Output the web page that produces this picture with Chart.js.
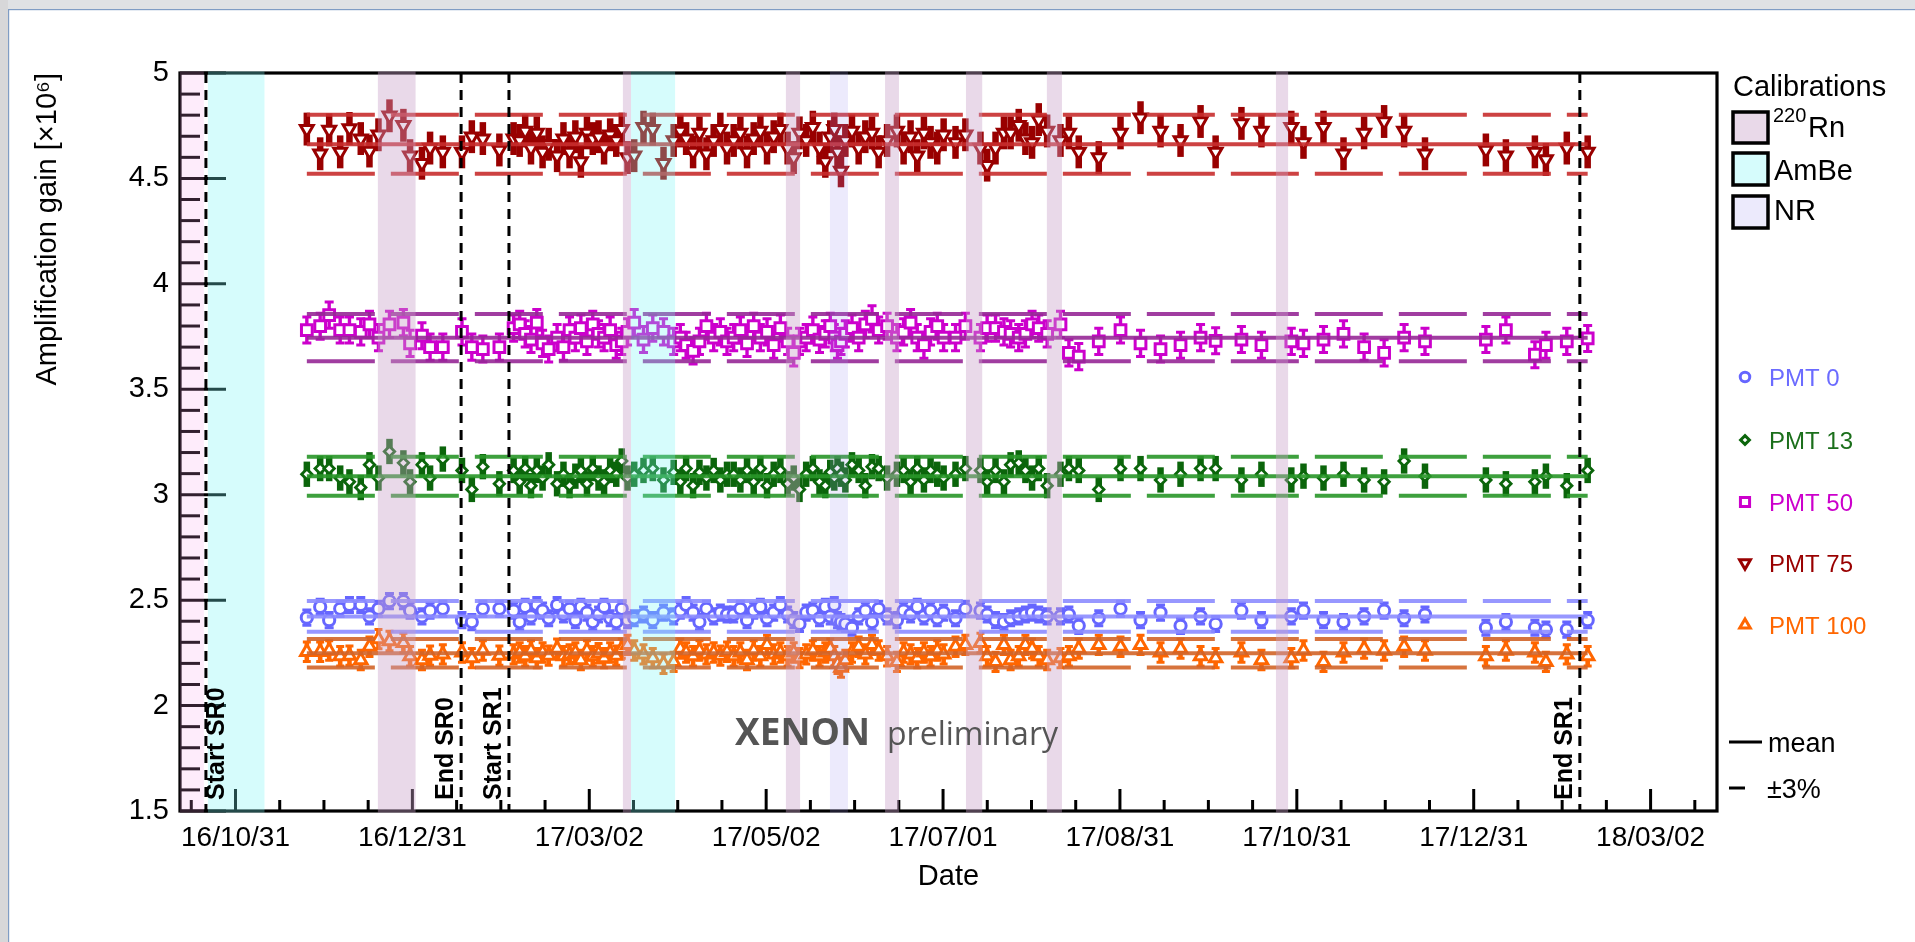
<!DOCTYPE html>
<html>
<head>
<meta charset="utf-8">
<title>PMT amplification gain</title>
<script src="https://cdn.jsdelivr.net/npm/chart.js@4.4.1/dist/chart.umd.min.js"></script>
<style>
html,body{margin:0;padding:0;background:#fff;overflow:hidden;}
#wrap{position:relative;width:1915px;height:942px;}
</style>
</head>
<body>
<div id="wrap"><canvas id="chart"></canvas></div>
<script>
// ===== data =====
// x values: days since 2016-10-31
const days = [
  24.6, 29.2, 32.3, 36.1, 39.3, 43.2, 46.2, 49.3, 53.1, 57.9, 60.2, 64.3, 67.1, 71.5, 78.1, 81.5, 85.3, 91.0,
  95.9, 98.0, 99.9, 101.9, 103.9, 105.9, 108.0, 110.9, 113.1, 115.2, 117.2, 119.1, 121.2, 123.2, 125.2, 127.1, 129.2, 131.3, 133.2, 135.2, 137.5, 140.7, 143.9, 147.6, 151.1, 153.4, 155.4, 157.8, 160.0, 162.4, 164.9, 167.2, 169.5,
  171.8, 174.1, 176.4, 178.7, 181.0, 183.3, 185.6, 187.9, 190.4, 192.5, 194.5, 196.8, 199.1, 201.4, 203.4, 205.1, 206.5, 207.6, 208.8, 210.3, 212.6, 214.9, 217.2, 219.5, 221.8, 224.7, 228.1, 230.4, 232.8, 235.1, 237.4, 239.7, 242.0, 244.2,
  248.3, 251.7, 256.9, 259.2, 262.1, 265.0, 267.3, 270.1, 272.4, 274.7, 277.0, 279.9, 284.5, 287.4, 290.8, 297.7, 305.2, 312.1, 319.0,
  325.9, 332.8, 338.0, 346.9, 353.8, 364.1, 368.3, 375.2, 382.1, 389.2, 396.1,
  403.0, 410.2, 431.2, 438.1, 448.1, 451.9, 459.1, 466.3
];
const gainPMT75 = [
  4.734, 4.617, 4.730, 4.626, 4.737, 4.689, 4.630, 4.707, 4.797, 4.752, 4.608, 4.572, 4.644, 4.626, 4.626, 4.698, 4.689, 4.635,
  4.689, 4.680, 4.725, 4.644, 4.716, 4.626, 4.662, 4.608, 4.689, 4.626, 4.698, 4.581, 4.716, 4.689, 4.698, 4.644, 4.707, 4.680, 4.734, 4.599, 4.608, 4.743, 4.734, 4.572, 4.680, 4.725, 4.689, 4.626, 4.716, 4.617, 4.680, 4.734, 4.644,
  4.680, 4.716, 4.626, 4.689, 4.725, 4.644, 4.698, 4.734, 4.644, 4.599, 4.716, 4.680, 4.743, 4.644, 4.581, 4.698, 4.734, 4.626, 4.536, 4.680, 4.725, 4.644, 4.698, 4.716, 4.626, 4.680, 4.725, 4.644, 4.698, 4.608, 4.716, 4.671, 4.644, 4.707,
  4.671, 4.707, 4.644, 4.563, 4.644, 4.716, 4.716, 4.752, 4.689, 4.671, 4.779, 4.725, 4.680, 4.716, 4.626, 4.599, 4.716, 4.788, 4.725,
  4.680, 4.770, 4.626, 4.761, 4.725, 4.743, 4.671, 4.743, 4.617, 4.716, 4.770,
  4.725, 4.617, 4.635, 4.608, 4.626, 4.590, 4.644, 4.626
];
const gainPMT50 = [
  3.781, 3.799, 3.852, 3.781, 3.781, 3.772, 3.808, 3.745, 3.808, 3.816, 3.718, 3.754, 3.700, 3.700, 3.772, 3.700, 3.691, 3.700,
  3.790, 3.808, 3.763, 3.736, 3.816, 3.718, 3.691, 3.745, 3.700, 3.781, 3.745, 3.790, 3.727, 3.808, 3.763, 3.745, 3.781, 3.709, 3.727, 3.772, 3.816, 3.736, 3.790, 3.772, 3.727, 3.745, 3.709, 3.682, 3.727, 3.799, 3.745, 3.772, 3.727,
  3.745, 3.781, 3.718, 3.799, 3.745, 3.772, 3.709, 3.790, 3.727, 3.673, 3.727, 3.745, 3.781, 3.736, 3.763, 3.799, 3.745, 3.709, 3.727, 3.763, 3.790, 3.745, 3.808, 3.834, 3.781, 3.799, 3.745, 3.772, 3.816, 3.745, 3.709, 3.772, 3.799, 3.745,
  3.745, 3.799, 3.745, 3.790, 3.790, 3.772, 3.763, 3.745, 3.763, 3.808, 3.790, 3.763, 3.808, 3.673, 3.655, 3.727, 3.781, 3.718, 3.691,
  3.709, 3.745, 3.730, 3.736, 3.709, 3.727, 3.718, 3.736, 3.763, 3.700, 3.673,
  3.745, 3.727, 3.736, 3.781, 3.664, 3.709, 3.727, 3.741
];
const gainPMT13 = [
  3.097, 3.124, 3.124, 3.079, 3.061, 3.034, 3.142, 3.079, 3.205, 3.151, 3.061, 3.142, 3.079, 3.169, 3.115, 3.025, 3.133, 3.052,
  3.115, 3.061, 3.124, 3.043, 3.115, 3.079, 3.142, 3.052, 3.097, 3.043, 3.088, 3.115, 3.052, 3.124, 3.079, 3.061, 3.115, 3.097, 3.160, 3.079, 3.097, 3.115, 3.124, 3.070, 3.106, 3.061, 3.124, 3.043, 3.106, 3.079, 3.115, 3.070, 3.097,
  3.097, 3.070, 3.115, 3.061, 3.124, 3.043, 3.097, 3.115, 3.052, 3.079, 3.025, 3.097, 3.124, 3.061, 3.043, 3.106, 3.079, 3.124, 3.097, 3.070, 3.142, 3.115, 3.043, 3.133, 3.124, 3.079, 3.097, 3.115, 3.061, 3.124, 3.070, 3.115, 3.097, 3.079,
  3.097, 3.124, 3.115, 3.061, 3.115, 3.061, 3.142, 3.151, 3.115, 3.079, 3.124, 3.043, 3.097, 3.124, 3.115, 3.025, 3.124, 3.124, 3.070,
  3.097, 3.124, 3.124, 3.070, 3.097, 3.070, 3.088, 3.079, 3.097, 3.070, 3.061,
  3.160, 3.088, 3.070, 3.052, 3.061, 3.088, 3.043, 3.115
];
const gainPMT0 = [
  2.417, 2.468, 2.405, 2.459, 2.477, 2.477, 2.423, 2.459, 2.495, 2.495, 2.450, 2.423, 2.450, 2.459, 2.405, 2.396, 2.459, 2.459,
  2.450, 2.396, 2.468, 2.423, 2.477, 2.450, 2.414, 2.477, 2.432, 2.459, 2.405, 2.468, 2.441, 2.396, 2.432, 2.468, 2.414, 2.396, 2.459, 2.405, 2.414, 2.432, 2.405, 2.441, 2.423, 2.450, 2.477, 2.441, 2.396, 2.459, 2.423, 2.441, 2.432,
  2.432, 2.459, 2.405, 2.450, 2.468, 2.414, 2.441, 2.477, 2.432, 2.405, 2.387, 2.441, 2.450, 2.414, 2.468, 2.423, 2.477, 2.405, 2.396, 2.387, 2.369, 2.423, 2.450, 2.396, 2.459, 2.423, 2.405, 2.450, 2.432, 2.468, 2.423, 2.450, 2.414, 2.441,
  2.414, 2.459, 2.450, 2.432, 2.405, 2.396, 2.414, 2.423, 2.432, 2.441, 2.432, 2.423, 2.423, 2.432, 2.378, 2.414, 2.459, 2.405, 2.441,
  2.378, 2.423, 2.387, 2.450, 2.405, 2.423, 2.450, 2.405, 2.396, 2.423, 2.450,
  2.414, 2.432, 2.369, 2.396, 2.369, 2.360, 2.360, 2.405
];
const gainPMT100 = [
  2.255, 2.255, 2.261, 2.234, 2.237, 2.216, 2.279, 2.315, 2.306, 2.297, 2.234, 2.216, 2.237, 2.243, 2.252, 2.225, 2.261, 2.237,
  2.243, 2.252, 2.234, 2.261, 2.225, 2.252, 2.237, 2.270, 2.234, 2.243, 2.252, 2.216, 2.261, 2.234, 2.248, 2.225, 2.252, 2.237, 2.270, 2.288, 2.261, 2.243, 2.225, 2.198, 2.207, 2.270, 2.252, 2.234, 2.261, 2.243, 2.252, 2.237, 2.255,
  2.234, 2.252, 2.216, 2.261, 2.234, 2.288, 2.243, 2.252, 2.234, 2.252, 2.225, 2.243, 2.261, 2.234, 2.252, 2.270, 2.234, 2.198, 2.180, 2.216, 2.252, 2.279, 2.243, 2.288, 2.261, 2.234, 2.207, 2.252, 2.243, 2.225, 2.252, 2.234, 2.261, 2.243,
  2.279, 2.288, 2.297, 2.234, 2.207, 2.288, 2.216, 2.234, 2.288, 2.270, 2.234, 2.216, 2.225, 2.234, 2.270, 2.288, 2.279, 2.288, 2.252,
  2.270, 2.234, 2.225, 2.252, 2.216, 2.225, 2.261, 2.207, 2.252, 2.270, 2.261,
  2.279, 2.261, 2.234, 2.261, 2.252, 2.207, 2.243, 2.234
];
// mean gains and typical error sizes (x10^6)
const meanGains = [2.423, 3.088, 3.745, 4.662, 2.248];     // PMT 0, 13, 50, 75, 100
const gainErrors = [0.036, 0.06, 0.062, 0.078, 0.046];
const pmtNames = ['PMT 0', 'PMT 13', 'PMT 50', 'PMT 75', 'PMT 100'];
const bandPercent = 3;
// axis ticks
const tickDays = [0, 61, 122, 183, 244, 305, 366, 427, 488];
const tickLabels = ['16/10/31', '16/12/31', '17/03/02', '17/05/02', '17/07/01', '17/08/31', '17/10/31', '17/12/31', '18/03/02'];
const yTicks = [1.5, 2, 2.5, 3, 3.5, 4, 4.5, 5];
// calibration periods (days since 2016-10-31)
const earlyBands = [[-19.2, -10.9]];
const rnBands = [[49.1, 62.1], [133.6, 136.4], [189.8, 194.7], [224.0, 228.8], [251.9, 257.5], [279.8, 285.0], [358.8, 363.0]];
const ambeBands = [[-9.5, 10.0], [136.4, 151.6]];
const nrBands = [[205.0, 211.2]];
// science-run boundaries
const runDays = [-10.2, 77.8, 94.3, 463.6];
const runLabels = ['Start SR0', 'End SR0', 'Start SR1', 'End SR1'];

// ===== styles =====
const FONT = '"Liberation Sans", Arial, Helvetica, sans-serif';
const xMin = -19.14, xMax = 510.9;
const seriesValues = [gainPMT0, gainPMT13, gainPMT50, gainPMT75, gainPMT100];
const styles = [
  {color: '#6666ff', line: 'rgba(140,140,255,0.9)', text: '#6b6bff', pointStyle: 'circle', radius: 5.6, rotation: 0, bar: 3, cap: 9, bw: 3},
  {color: '#0b650b', line: 'rgba(40,150,40,0.9)', text: '#1b6f1b', pointStyle: 'rectRot', radius: 5.2, rotation: 0, bar: 6.5, cap: 0, bw: 2.8},
  {color: '#cc00cc', line: 'rgba(150,40,150,0.9)', text: '#cc00cc', pointStyle: 'rect', radius: 7.6, rotation: 0, bar: 3.4, cap: 9, bw: 3},
  {color: '#990000', line: 'rgba(200,45,45,0.9)', text: '#990000', pointStyle: 'triangle', radius: 7.4, rotation: 180, bar: 6.5, cap: 0, bw: 3},
  {color: '#ff6600', line: 'rgba(210,100,40,0.9)', text: '#ff6600', pointStyle: 'triangle', radius: 7.2, rotation: 0, bar: 4.6, cap: 8, bw: 3}
];
const bandColors = {early: 'rgba(250,160,235,0.2)', rn: 'rgba(200,160,200,0.4)', ambe: 'rgba(120,245,245,0.3)', nr: 'rgba(160,150,240,0.2)'};
const runSide = ['right', 'left', 'left', 'left'];

// ===== datasets =====
const datasets = [];
seriesValues.forEach((vals, k) => {
  const st = styles[k];
  const first = days[0], last = days[days.length - 1];
  const m = meanGains[k];
  const f = bandPercent / 100;
  datasets.push({type: 'line', label: pmtNames[k] + ' mean', data: [{x: first, y: m}, {x: last, y: m}],
    borderColor: st.line, borderWidth: 4, pointRadius: 0, showLine: true, order: 0});
  datasets.push({type: 'line', label: pmtNames[k] + ' +3%', data: [{x: first, y: m * (1 + f)}, {x: last, y: m * (1 + f)}],
    borderColor: st.line, borderWidth: 4, borderDash: [68, 16], pointRadius: 0, showLine: true, order: 0});
  datasets.push({type: 'line', label: pmtNames[k] + ' -3%', data: [{x: first, y: m * (1 - f)}, {x: last, y: m * (1 - f)}],
    borderColor: st.line, borderWidth: 4, borderDash: [68, 16], pointRadius: 0, showLine: true, order: 0});
  datasets.push({type: 'scatter', label: pmtNames[k], data: days.map((d, i) => ({x: d, y: vals[i]})),
    pointStyle: st.pointStyle, pointRadius: st.radius, pointRotation: st.rotation,
    borderColor: st.color, backgroundColor: '#ffffff', pointBorderWidth: st.bw, borderWidth: st.bw, order: 1});
});

// ===== plugins =====
const framePlugin = {
  id: 'frame',
  beforeDraw(chart) {
    const ctx = chart.ctx;
    ctx.save();
    ctx.fillStyle = '#ffffff';
    ctx.fillRect(0, 0, chart.width, chart.height);
    // window chrome around the figure
    ctx.fillStyle = '#dfe1e4'; ctx.fillRect(0, 0, chart.width, 9);
    ctx.fillStyle = '#d7d7d9'; ctx.fillRect(0, 0, 8, chart.height);
    ctx.fillStyle = '#7f9cc4'; ctx.fillRect(8, 9, chart.width - 8, 1.2); ctx.fillRect(8, 9, 1.2, chart.height - 9);
    ctx.restore();
  },
  beforeDatasetsDraw(chart) {
    const {ctx, chartArea: a, scales: {x, y}} = chart;
    ctx.save();
    ctx.strokeStyle = '#000'; ctx.lineWidth = 3.2;
    ctx.strokeRect(a.left, a.top, a.right - a.left, a.bottom - a.top);
    // y ticks (inside)
    ctx.lineWidth = 3;
    for (let v = 15; v <= 50; v++) {
      const py = y.getPixelForValue(v / 10);
      const len = (v % 5 === 0) ? 46 : 20;
      ctx.beginPath(); ctx.moveTo(a.left, py); ctx.lineTo(a.left + len, py); ctx.stroke();
    }
    // x ticks (inside)
    const step = (tickDays[1] - tickDays[0]) / 4;
    for (let k = -2; k * step <= xMax; k++) {
      const d = k * step;
      if (d < xMin) continue;
      const px = x.getPixelForValue(d);
      const len = (k % 4 === 0) ? 22 : 11;
      ctx.beginPath(); ctx.moveTo(px, a.bottom); ctx.lineTo(px, a.bottom - len); ctx.stroke();
    }
    // error bars
    ctx.beginPath(); ctx.rect(a.left, a.top, a.right - a.left, a.bottom - a.top); ctx.clip();
    seriesValues.forEach((vals, k) => {
      const st = styles[k], e = gainErrors[k];
      ctx.strokeStyle = st.color;
      vals.forEach((v, i) => {
        const px = x.getPixelForValue(days[i]);
        const y1 = y.getPixelForValue(v + e), y2 = y.getPixelForValue(v - e);
        ctx.lineWidth = st.bar;
        ctx.beginPath(); ctx.moveTo(px, y1); ctx.lineTo(px, y2); ctx.stroke();
        if (st.cap) {
          ctx.lineWidth = 3;
          ctx.beginPath();
          ctx.moveTo(px - st.cap / 2, y1); ctx.lineTo(px + st.cap / 2, y1);
          ctx.moveTo(px - st.cap / 2, y2); ctx.lineTo(px + st.cap / 2, y2);
          ctx.stroke();
        }
      });
    });
    ctx.restore();
  },
  afterDatasetsDraw(chart) {
    const {ctx, chartArea: a, scales: {x}} = chart;
    ctx.save();
    const drawBands = (list, col) => {
      ctx.fillStyle = col;
      list.forEach(([d0, d1]) => {
        const p0 = x.getPixelForValue(d0), p1 = x.getPixelForValue(d1);
        ctx.fillRect(p0, a.top - 1.6, p1 - p0, a.bottom - a.top + 3.2);
      });
    };
    drawBands(earlyBands, bandColors.early);
    drawBands(rnBands, bandColors.rn);
    drawBands(ambeBands, bandColors.ambe);
    drawBands(nrBands, bandColors.nr);
    // run boundaries
    ctx.strokeStyle = '#000'; ctx.lineWidth = 3; ctx.setLineDash([10, 7]);
    runDays.forEach((d) => {
      const px = x.getPixelForValue(d);
      ctx.beginPath(); ctx.moveTo(px, a.top); ctx.lineTo(px, a.bottom); ctx.stroke();
    });
    ctx.setLineDash([]);
    ctx.fillStyle = '#000';
    ctx.font = 'bold 25px ' + FONT;
    ctx.textAlign = 'left'; ctx.textBaseline = 'middle';
    runDays.forEach((d, i) => {
      const px = x.getPixelForValue(d);
      const cx = runSide[i] === 'right' ? px + 11 : px - 15;
      ctx.save(); ctx.translate(cx, 800); ctx.rotate(-Math.PI / 2);
      ctx.fillText(runLabels[i], 0, 0);
      ctx.restore();
    });
    // watermark
    ctx.fillStyle = '#555555';
    ctx.textBaseline = 'alphabetic';
    ctx.font = 'bold 37px "Open Sans", "Noto Sans", sans-serif';
    ctx.fillText('XENON', 735, 745);
    ctx.font = '32px "Open Sans", "Noto Sans", sans-serif';
    ctx.fillText('preliminary', 887, 745);
    ctx.restore();
  },
  afterDraw(chart) {
    const ctx = chart.ctx;
    ctx.save();
    ctx.fillStyle = '#000'; ctx.textAlign = 'left'; ctx.textBaseline = 'alphabetic';
    ctx.font = '29px ' + FONT;
    ctx.fillText('Calibrations', 1733, 96);
    const box = (yTop, h, col) => {
      ctx.fillStyle = col; ctx.fillRect(1733, yTop, 35, h);
      ctx.strokeStyle = '#000'; ctx.lineWidth = 3.5; ctx.strokeRect(1733, yTop, 35, h);
    };
    box(112, 31, 'rgb(233,217,233)');
    box(153, 32, 'rgb(214,252,252)');
    box(196, 32, 'rgb(236,234,252)');
    ctx.fillStyle = '#000';
    ctx.font = '20px ' + FONT; ctx.fillText('220', 1773, 121.5);
    ctx.font = '29px ' + FONT; ctx.fillText('Rn', 1808, 137);
    ctx.fillText('AmBe', 1774, 180);
    ctx.fillText('NR', 1774, 220);
    // PMT entries
    const H = Chart.helpers;
    const ys = [377, 440, 502, 563, 625];
    styles.forEach((st, k) => {
      ctx.strokeStyle = st.color; ctx.fillStyle = '#fff'; ctx.lineWidth = 3;
      if (H && H.drawPoint) {
        H.drawPoint(ctx, {pointStyle: st.pointStyle, radius: st.radius * 0.85, rotation: st.rotation, borderWidth: 3}, 1745, ys[k]);
      } else {
        ctx.beginPath(); ctx.arc(1745, ys[k], 5, 0, Math.PI * 2); ctx.fill(); ctx.stroke();
      }
      ctx.fillStyle = st.text;
      ctx.font = '24px ' + FONT;
      ctx.fillText(pmtNames[k], 1769, ys[k] + 8.6);
    });
    // mean / ±3%
    ctx.strokeStyle = '#000'; ctx.lineWidth = 3;
    ctx.beginPath(); ctx.moveTo(1729, 742); ctx.lineTo(1762, 742); ctx.stroke();
    ctx.beginPath(); ctx.moveTo(1729, 788); ctx.lineTo(1745, 788); ctx.stroke();
    ctx.fillStyle = '#000'; ctx.font = '27px ' + FONT;
    ctx.fillText('mean', 1768, 752);
    ctx.fillText('\u00b13%', 1767, 798);
    ctx.restore();
  }
};

Chart.defaults.font.family = FONT;
new Chart(document.getElementById('chart'), {
  type: 'scatter',
  data: {datasets},
  options: {
    responsive: true,
    maintainAspectRatio: false,
    animation: false,
    events: [],
    layout: {padding: {left: 0, right: 198, top: 73, bottom: 0}},
    plugins: {legend: {display: false}, tooltip: {enabled: false}},
    scales: {
      x: {
        type: 'linear', min: xMin, max: xMax,
        grid: {display: false, drawTicks: false},
        border: {display: false},
        afterBuildTicks: (s) => { s.ticks = tickDays.map(v => ({value: v})); },
        ticks: {
          autoSkip: false, maxRotation: 0, padding: 10, color: '#000',
          font: {size: 28, family: FONT},
          callback: (v) => { const i = tickDays.indexOf(v); return i >= 0 ? tickLabels[i] : ''; }
        },
        title: {display: true, text: 'Date', color: '#000', font: {size: 29, family: FONT}, padding: {top: 0, bottom: 48}},
        afterFit: (s) => { s.height = 131; }
      },
      y: {
        type: 'linear', min: 1.5, max: 5,
        grid: {display: false, drawTicks: false},
        border: {display: false},
        afterBuildTicks: (s) => { s.ticks = yTicks.map(v => ({value: v})); },
        ticks: {padding: 11, color: '#000', font: {size: 29, family: FONT}, callback: (v) => String(v)},
        title: {display: true, text: 'Amplification gain [\u00d710\u2076]', align: 'end', color: '#000', font: {size: 29, family: FONT}, padding: {top: 31, bottom: 0}},
        afterFit: (s) => { s.width = 180; }
      }
    }
  },
  plugins: [framePlugin]
});
</script>
</body>
</html>
